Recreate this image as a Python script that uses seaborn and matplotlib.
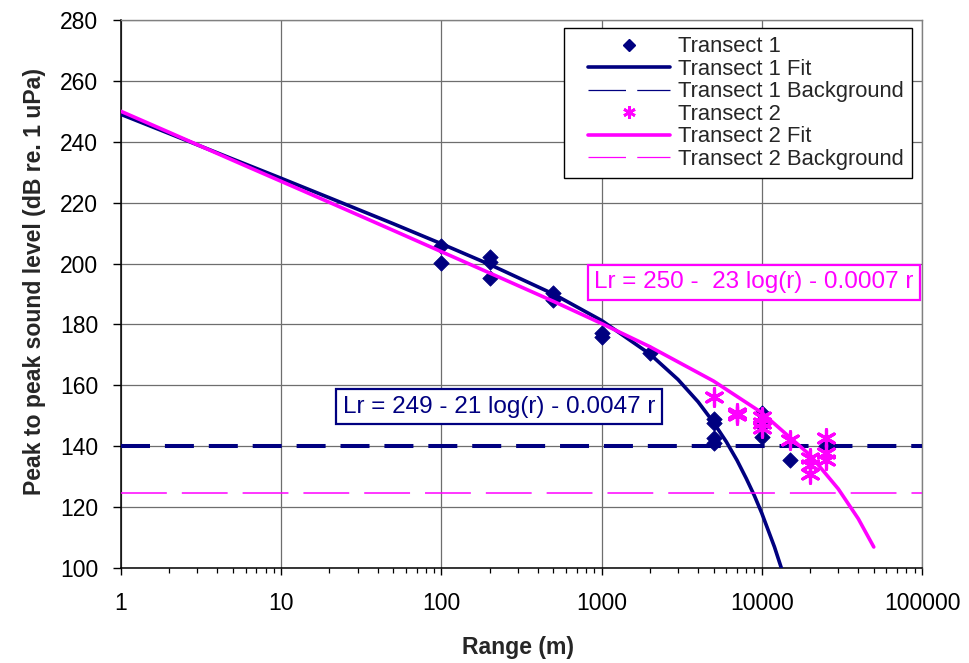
import matplotlib
matplotlib.use("Agg")
import matplotlib.pyplot as plt
import seaborn as sns
import pandas as pd
from matplotlib.lines import Line2D
from matplotlib.legend_handler import HandlerLine2D
from matplotlib.ticker import FixedLocator, FixedFormatter, LogLocator, NullFormatter

# ---------------- data ----------------
t1_range = [100, 100, 200, 200, 200, 500, 500, 1000, 1000, 2000,
            5000, 5000, 5000, 5000, 10000, 10000, 10000, 15000, 25000]
t1_level = [205.8, 200.2, 202.1, 200.5, 195.2, 190.3, 188.0, 177.1, 176.0, 170.5,
            149.1, 147.6, 142.6, 140.9, 150.8, 147.0, 143.1, 135.5, 140.0]

t2_range = [5000, 7000, 7000, 10000, 10000, 10000, 15000,
            20000, 20000, 20000, 25000, 25000, 25000]
t2_level = [156.2, 150.8, 150.3, 149.7, 147.5, 145.9, 142.0,
            136.0, 133.8, 131.0, 142.6, 137.7, 135.5]

t1_fit_range = [1, 2, 5, 10, 20, 50, 100, 200, 500, 1000, 2000, 3000, 4000,
                5000, 6000, 7000, 8000, 9000, 10000, 12000, 14000]
t1_fit_level = [249.0, 242.7, 234.3, 228.0, 221.6, 213.1, 206.5, 199.7, 190.0, 181.3,
                170.3, 161.9, 154.6, 147.8, 141.5, 135.4, 129.4, 123.7, 118.0, 106.9, 96.1]

t2_fit_range = [1, 2, 5, 10, 20, 50, 100, 200, 500, 1000, 2000, 5000,
                10000, 20000, 30000, 40000, 50000]
t2_fit_level = [250.0, 243.1, 233.9, 227.0, 220.1, 210.9, 203.9, 196.9, 187.6, 180.3,
                172.7, 161.4, 151.0, 137.1, 126.0, 116.2, 106.9]

bg_range = [1, 100000]
t1_background = [140.0, 140.0]
t2_background = [124.5, 124.5]

x_ticks = [1, 10, 100, 1000, 10000, 100000]
x_tick_labels = ["1", "10", "100", "1000", "10000", "100000"]
y_ticks = [100, 120, 140, 160, 180, 200, 220, 240, 260, 280]
y_tick_labels = [str(v) for v in y_ticks]

series_labels = ["Transect 1", "Transect 1 Fit", "Transect 1 Background",
                 "Transect 2", "Transect 2 Fit", "Transect 2 Background"]
eq1 = "Lr = 249 - 21 log(r) - 0.0047 r"
eq2 = "Lr = 250 -  23 log(r) - 0.0007 r"

NAVY = "#000080"
MAG = "#FF00FF"

# ---------------- style ----------------
sns.set_theme(style="ticks")
plt.rcParams["font.family"] = ["Liberation Sans", "DejaVu Sans"]

fig = plt.figure(figsize=(9.69, 6.63), dpi=100)
ax = fig.add_axes([121 / 969, 1 - 568 / 663, 801 / 969, 548 / 663])
ax.set_xscale("log")

d1 = pd.DataFrame({"r": t1_range, "L": t1_level})
d2 = pd.DataFrame({"r": t2_range, "L": t2_level})
f1 = pd.DataFrame({"r": t1_fit_range, "L": t1_fit_level})
f2 = pd.DataFrame({"r": t2_fit_range, "L": t2_fit_level})
b1 = pd.DataFrame({"r": bg_range, "L": t1_background})
b2 = pd.DataFrame({"r": bg_range, "L": t2_background})

sns.scatterplot(data=d1, x="r", y="L", ax=ax, marker="D", s=62, color=NAVY,
                edgecolor=NAVY, linewidth=0.5, zorder=3, legend=False)
sns.lineplot(data=f1, x="r", y="L", ax=ax, color=NAVY, lw=2.6, sort=False,
             estimator=None, zorder=4, legend=False)
sns.lineplot(data=b1, x="r", y="L", ax=ax, color=NAVY, lw=2.9, sort=False,
             estimator=None, zorder=5, legend=False, dashes=False)
ax.lines[-1].set_dashes((7.2, 3.7))
sns.scatterplot(data=d2, x="r", y="L", ax=ax, marker=(6, 2, 0), s=160, color=MAG,
                linewidth=2.3, zorder=6, legend=False)
sns.lineplot(data=f2, x="r", y="L", ax=ax, color=MAG, lw=2.6, sort=False,
             estimator=None, zorder=7, legend=False)
sns.lineplot(data=b2, x="r", y="L", ax=ax, color=MAG, lw=1.1, sort=False,
             estimator=None, zorder=8, legend=False, dashes=False)
ax.lines[-1].set_dashes((30, 9.8))

ax.set_xlim(1, 100000)
ax.set_ylim(100, 280)
ax.xaxis.set_major_locator(FixedLocator(x_ticks))
ax.xaxis.set_major_formatter(FixedFormatter(x_tick_labels))
ax.xaxis.set_minor_locator(LogLocator(base=10, subs=[2, 3, 4, 5, 6, 7, 8, 9], numticks=20))
ax.xaxis.set_minor_formatter(NullFormatter())
ax.yaxis.set_major_locator(FixedLocator(y_ticks))
ax.yaxis.set_major_formatter(FixedFormatter(y_tick_labels))

ax.grid(which="major", color="#6e6e6e", lw=0.9, zorder=0)
ax.set_axisbelow(True)
ax.tick_params(axis="x", which="major", direction="out", length=5, width=1,
               pad=12, labelsize=16.5, colors="black")
ax.tick_params(axis="x", which="minor", direction="out", length=3.6, width=0.9,
               colors="black")
ax.tick_params(axis="y", which="major", direction="out", length=5.8, width=1,
               pad=10.5, labelsize=16.5, colors="black")
for s in ["left", "bottom"]:
    ax.spines[s].set_color("black")
    ax.spines[s].set_linewidth(1.1)
for s in ["top", "right"]:
    ax.spines[s].set_visible(True)
    ax.spines[s].set_color("#808080")
    ax.spines[s].set_linewidth(1.0)

ax.set_xlabel("Range (m)", fontsize=16.6, fontweight="bold", va="top")
ax.set_ylabel("Peak to peak sound level (dB re. 1 uPa)", fontsize=16.6,
              fontweight="bold")
ax.xaxis.set_label_coords(0.496, -0.124)
ax.yaxis.set_label_coords(-0.094, 0.522)

ax.text(0.277, 0.2947, eq1, transform=ax.transAxes, fontsize=17.5, color=NAVY,
        ha="left", va="center", zorder=10,
        bbox=dict(boxstyle="square,pad=0.28", fc="white", ec=NAVY, lw=1.6))
ax.text(0.591, 0.521, eq2, transform=ax.transAxes, fontsize=17.5, color=MAG,
        ha="left", va="center", zorder=10,
        bbox=dict(boxstyle="square,pad=0.25", fc="white", ec=MAG, lw=1.6))

handles = [
    Line2D([], [], ls="", marker="D", ms=6.5, color=NAVY),
    Line2D([], [], color=NAVY, lw=2.6),
    Line2D([], [], color=NAVY, lw=0.9, dashes=(30, 9)),
    Line2D([], [], ls="", marker=(6, 2, 0), ms=9, mew=2, color=MAG),
    Line2D([], [], color=MAG, lw=2.6),
    Line2D([], [], color=MAG, lw=0.9, dashes=(30, 9)),
]
leg = ax.legend(handles, series_labels, loc="upper right",
                bbox_to_anchor=(0.9875, 0.9854), borderaxespad=0,
                fontsize=15.8, frameon=True, fancybox=False, shadow=False,
                borderpad=0.38, labelspacing=0.07, handlelength=4.45,
                handletextpad=0.37,
                handler_map={Line2D: HandlerLine2D(xpad=0.72)})
leg.get_frame().set_edgecolor("black")
leg.get_frame().set_linewidth(1.0)
leg.get_frame().set_alpha(1)
leg.set_zorder(20)

fig.savefig("out.png", dpi=100, facecolor="white")
